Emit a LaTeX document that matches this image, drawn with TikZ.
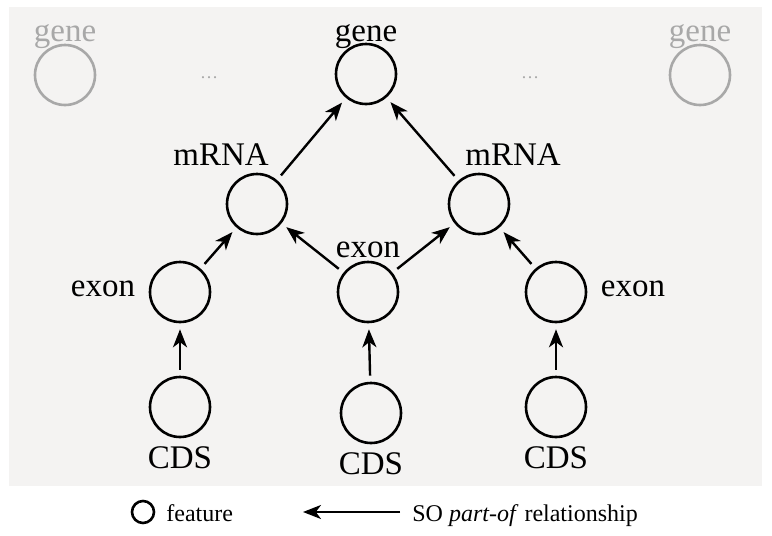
\documentclass[tikz,border=0pt]{standalone}
\usepackage{fontspec}
\setmainfont{Liberation Serif}
\usetikzlibrary{arrows.meta}
\definecolor{panelbg}{HTML}{F4F3F2}
\definecolor{ghostgray}{HTML}{A8A8A8}

\begin{document}
\begin{tikzpicture}[
  x=0.5pt, y=-0.5pt,
  feat/.style={draw, circle, line width=1.3pt, minimum size=30pt, inner sep=0pt},
  ghost/.style={feat, draw=ghostgray},
  lbl/.style={anchor=base, font=\fontsize{16.5}{19}\selectfont, inner sep=0pt},
  ghostlbl/.style={lbl, text=ghostgray},
  keytxt/.style={anchor=base west, font=\fontsize{12}{14}\selectfont, inner sep=0pt},
  arr/.style={-{Stealth[length=9pt, width=7pt, inset=2.6pt]}, line width=1.2pt, shorten <=3pt, shorten >=3pt}
]
  \useasboundingbox (0,0) rectangle (772,536);
  \fill[panelbg] (9,7) rectangle (762,486);

  % faded neighbours
  \node[ghost] (geneA) at (65,75) {};
  \node[ghostlbl] (geneAtxt) at (65,41) {gene};
  \node[text=ghostgray, font=\small] (dotsA) at (209,78) {\dots};
  \node[text=ghostgray, font=\small] (dotsB) at (530,78) {\dots};
  \node[ghost] (geneB) at (700,75) {};
  \node[ghostlbl] (geneBtxt) at (700,41) {gene};

  % gene and its transcripts
  \node[feat] (gene) at (366,74) {};
  \node[lbl] (genetxt) at (366,41) {gene};
  \node[feat] (mrnaL) at (257,204) {};
  \node[lbl] (mrnaLtxt) at (221,165) {mRNA};
  \node[feat] (mrnaR) at (479,204) {};
  \node[lbl] (mrnaRtxt) at (513,165) {mRNA};

  % exons
  \node[feat] (exonL) at (180,292) {};
  \node[lbl] (exonLtxt) at (103,296) {exon};
  \node[feat] (exonM) at (368,292) {};
  \node[lbl] (exonMtxt) at (368,257) {exon};
  \node[feat] (exonR) at (556,292) {};
  \node[lbl] (exonRtxt) at (633,296) {exon};

  % coding sequences
  \node[feat] (cdsL) at (180,407) {};
  \node[lbl] (cdsLtxt) at (180,468) {CDS};
  \node[feat] (cdsM) at (371,413) {};
  \node[lbl] (cdsMtxt) at (371,474) {CDS};
  \node[feat] (cdsR) at (556,407) {};
  \node[lbl] (cdsRtxt) at (556,468) {CDS};

  % part-of edges
  \draw[arr] (mrnaL) -- (gene);
  \draw[arr] (mrnaR) -- (gene);
  \draw[arr] (exonL) -- (mrnaL);
  \draw[arr] (exonM) -- (mrnaL);
  \draw[arr] (exonM) -- (mrnaR);
  \draw[arr] (exonR) -- (mrnaR);
  \draw[arr] (cdsL) -- (exonL);
  \draw[arr] (cdsM) -- (exonM);
  \draw[arr] (cdsR) -- (exonR);

  % legend
  \node[feat, minimum size=11pt] (keyfeat) at (143,512) {};
  \node[keytxt] (keyfeattxt) at (166,521) {feature};
  \coordinate (keytail) at (400,512);
  \coordinate (keyhead) at (303,512);
  \draw[arr, shorten <=0pt, shorten >=0pt] (keytail) -- (keyhead);
  \node[keytxt] (keyarrtxt) at (412,521) {SO \textit{part-of} relationship};
\end{tikzpicture}
\end{document}
